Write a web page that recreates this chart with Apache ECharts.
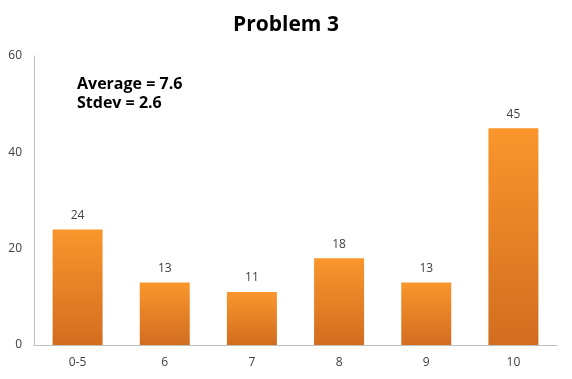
<!DOCTYPE html>
<html><head><meta charset="utf-8">
<script src="https://cdn.jsdelivr.net/npm/echarts@6/dist/echarts.min.js"></script>
<style>html,body{margin:0;padding:0;background:#fff}#c{width:572px;height:379px}</style>
</head><body><div id="c"></div>
<script>
const categories = ["0-5", "6", "7", "8", "9", "10"];
const values = [24, 13, 11, 18, 13, 45];
const yTicks = [0, 20, 40, 60];
const titleText = "Problem 3";
const noteLines = ["Average = 7.6", "Stdev = 2.6"];

const chart = echarts.init(document.getElementById('c'));
const font = "'Open Sans', 'Noto Sans', sans-serif";
chart.setOption({
  animation: false,
  title: { text: titleText, left: 'center', top: 10,
    textStyle: { fontFamily: font, fontSize: 21, fontWeight: 'bold', color: '#000' } },
  grid: { left: 34, right: 15, top: 56, bottom: 34 },
  xAxis: { type: 'category', data: categories,
    axisLine: { lineStyle: { color: '#BFBFBF' } }, axisTick: { show: false },
    axisLabel: { fontFamily: font, fontSize: 12, color: '#404040', margin: 12 } },
  yAxis: { type: 'value', min: yTicks[0], max: yTicks[yTicks.length-1], interval: 20,
    axisLine: { show: true, lineStyle: { color: '#BFBFBF' } }, axisTick: { show: false },
    splitLine: { show: false },
    axisLabel: { fontFamily: font, fontSize: 12, color: '#404040', margin: 12 } },
  series: [{ type: 'bar', data: values, barWidth: 50,
    itemStyle: { color: new echarts.graphic.LinearGradient(0, 0, 0, 1, [
      { offset: 0, color: '#FA962C' }, { offset: 1, color: '#D26D20' }]) },
    label: { show: true, position: 'top', distance: 8, fontFamily: font, fontSize: 12, color: '#404040' } }],
  graphic: noteLines.map((t, i) => ({ type: 'text', left: 77, top: 76 + i * 19,
    style: { text: t, fontFamily: font, fontSize: 16, fontWeight: 'bold', fill: '#000' } }))
});
</script></body></html>
